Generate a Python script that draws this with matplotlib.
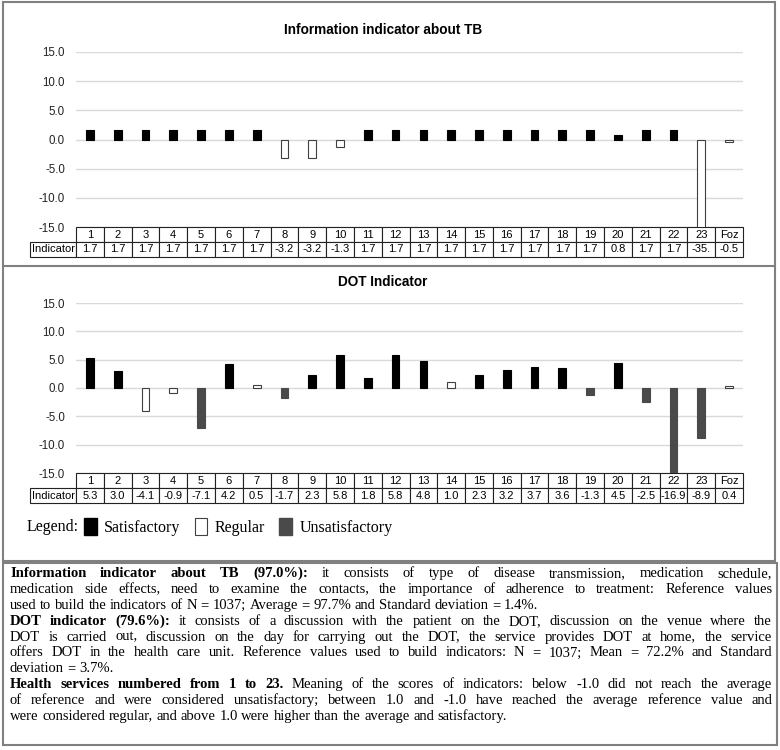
import matplotlib
matplotlib.use("Agg")
import matplotlib.pyplot as plt
from matplotlib.patches import Rectangle, Patch
from matplotlib.lines import Line2D

plt.rcParams['font.family'] = ['Liberation Sans', 'DejaVu Sans']

# health services (columns of both charts)
services = ['1', '2', '3', '4', '5', '6', '7', '8', '9', '10', '11', '12',
            '13', '14', '15', '16', '17', '18', '19', '20', '21', '22', '23', 'Foz']

# information indicator about TB
info_values = [1.7, 1.7, 1.7, 1.7, 1.7, 1.7, 1.7, -3.2, -3.2, -1.3, 1.7, 1.7,
               1.7, 1.7, 1.7, 1.7, 1.7, 1.7, 1.7, 0.8, 1.7, 1.7, -35.0, -0.5]
info_status = ['S', 'S', 'S', 'S', 'S', 'S', 'S', 'R', 'R', 'R', 'S', 'S',
               'S', 'S', 'S', 'S', 'S', 'S', 'S', 'S', 'S', 'S', 'R', 'R']

# DOT indicator
dot_values = [5.3, 3.0, -4.1, -0.9, -7.1, 4.2, 0.5, -1.7, 2.3, 5.8, 1.8, 5.8,
              4.8, 1.0, 2.3, 3.2, 3.7, 3.6, -1.3, 4.5, -2.5, -16.9, -8.9, 0.4]
dot_status = ['S', 'S', 'R', 'R', 'U', 'S', 'R', 'U', 'S', 'S', 'S', 'S',
              'S', 'R', 'S', 'S', 'S', 'S', 'U', 'S', 'U', 'U', 'U', 'R']

yticks = [-15, -10, -5, 0, 5, 10, 15]

fill_colors = {'S': 'black', 'R': 'white', 'U': '#4a4a4a'}
edge_colors = {'S': 'black', 'R': '#404040', 'U': '#4a4a4a'}

W, H = 780, 750
fig = plt.figure(figsize=(W / 100, H / 100), dpi=100)


def px_axes(left, top, right, bottom):
    return fig.add_axes([left / W, 1 - bottom / H, (right - left) / W, (bottom - top) / H])


def draw_chart(ax, values, status, labels, height_px):
    x = list(range(len(values)))
    ax.bar(x, values, width=0.28,
           color=[fill_colors[s] for s in status],
           edgecolor=[edge_colors[s] for s in status], linewidth=0.8)
    ax.set_xlim(-0.5, len(values) - 0.5)
    ax.set_ylim(-15, 15)
    ax.set_yticks(yticks)
    ax.set_yticklabels([f"{t:.1f}" for t in yticks])
    ax.set_xticks([])
    ax.set_axisbelow(True)
    ax.grid(axis='y', color='#d9d9d9', linewidth=1)
    for s in ax.spines.values():
        s.set_visible(False)
    ax.tick_params(axis='y', length=0, pad=8, labelsize=8.3, labelcolor='#222222')

    # data table under the bars, first column holds the row label
    lab_w = 46 / 667
    h = 30 / height_px
    tbl = ax.table(cellText=[[''] + services, ['Indicator'] + labels],
                   colWidths=[lab_w] + [1 / 24] * 24,
                   cellLoc='center', bbox=[-lab_w, -h, 1 + lab_w, h])
    tbl.auto_set_font_size(False)
    tbl.set_fontsize(8)
    for key, cell in tbl.get_celld().items():
        cell.set_linewidth(0.8)
        cell.set_edgecolor('#222222')
        cell.PAD = 0.03
    tbl[0, 0].visible_edges = 'open'
    tbl[0, 0].set_facecolor('none')


ax1 = px_axes(76, 52, 743, 227)
info_labels = [f"{v:.1f}" for v in info_values]
info_labels[22] = "-35."  # cell is too narrow in the original
draw_chart(ax1, info_values, info_status, info_labels, 175)

ax2 = px_axes(76, 303, 743, 473)
dot_labels = [f"{v:.1f}" for v in dot_values]
draw_chart(ax2, dot_values, dot_status, dot_labels, 170)

# titles
fig.text(383 / W, 1 - 30 / H, 'Information indicator about TB', ha='center', va='center',
         fontsize=9.8, weight='bold')
fig.text(383 / W, 1 - 282 / H, 'DOT Indicator', ha='center', va='center',
         fontsize=9.8, weight='bold')

# legend
serif = 'Liberation Serif'
fig.text(27 / W, 1 - 527 / H, 'Legend:', family=serif, fontsize=11.5, va='center')
handles = [Patch(facecolor='black', edgecolor='black', label='Satisfactory'),
           Patch(facecolor='white', edgecolor='#404040', linewidth=0.8, label='Regular'),
           Patch(facecolor='#4a4a4a', edgecolor='#4a4a4a', label='Unsatisfactory')]
fig.legend(handles=handles, loc='center left', bbox_to_anchor=(84 / W, 1 - 527 / H),
           ncol=3, frameon=False, prop={'family': serif, 'size': 11.5},
           handlelength=0.8, handleheight=1.2, handletextpad=0.45,
           columnspacing=0.9, borderpad=0, borderaxespad=0)

# frames
frame_kw = dict(transform=fig.transFigure, fill=False, edgecolor='#808080', linewidth=1.5)
fig.add_artist(Rectangle((3 / W, 1 - 561 / H), 772 / W, 559 / H, **frame_kw))
fig.add_artist(Line2D([3 / W, 775 / W], [1 - 266 / H, 1 - 266 / H],
                      transform=fig.transFigure, color='#808080', linewidth=1.5))
fig.add_artist(Rectangle((3 / W, 1 - 745 / H), 774 / W, 182 / H, **frame_kw))

# caption text, justified line by line
caption = [
    ([("Information indicator about TB (97.0%):", True),
      ("it consists of type of disease transmission, medication schedule,", False)], True),
    ([("medication side effects, need to examine the contacts, the importance of adherence to treatment: Reference values", False)], True),
    ([("used to build the indicators of N = 1037; Average = 97.7% and Standard deviation = 1.4%.", False)], False),
    ([("DOT indicator (79.6%):", True),
      ("it consists of a discussion with the patient on the DOT, discussion on the venue where the", False)], True),
    ([("DOT is carried out, discussion on the day for carrying out the DOT, the service provides DOT at home, the service", False)], True),
    ([("offers DOT in the health care unit. Reference values used to build indicators: N = 1037; Mean = 72.2% and Standard", False)], True),
    ([("deviation = 3.7%.", False)], False),
    ([("Health services numbered from 1 to 23.", True),
      ("Meaning of the scores of indicators: below -1.0 did not reach the average", False)], True),
    ([("of reference and were considered unsatisfactory; between 1.0 and -1.0 have reached the average reference value and", False)], True),
    ([("were considered regular, and above 1.0 were higher than the average and satisfactory.", False)], False),
]

renderer = fig.canvas.get_renderer()
cap_size = 10.5
x_left, x_right = 10, 772
y0, dy = 577, 15.9


def text_width(s, bold):
    t = fig.text(0, 0, s, family=serif, fontsize=cap_size, weight='bold' if bold else 'normal')
    w = t.get_window_extent(renderer).width
    t.remove()
    return w


space_w = text_width("x x", False) - text_width("xx", False)

for i, (segs, justify) in enumerate(caption):
    words = []
    for txt, bold in segs:
        for w in txt.split():
            words.append((w, bold))
    widths = [text_width(w, b) for w, b in words]
    if justify:
        gap = (x_right - x_left - sum(widths)) / (len(words) - 1)
    else:
        gap = space_w
    x = x_left
    y = y0 + i * dy
    for (w, b), ww in zip(words, widths):
        fig.text(x / W, 1 - y / H, w, family=serif, fontsize=cap_size,
                 weight='bold' if b else 'normal', va='baseline', ha='left')
        x += ww + gap

fig.savefig('out.png', dpi=100)
